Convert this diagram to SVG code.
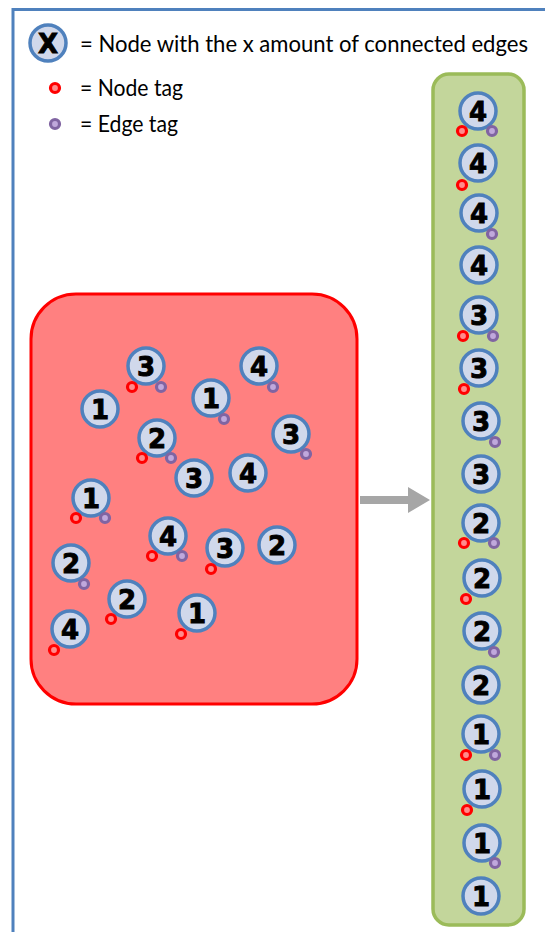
<svg xmlns="http://www.w3.org/2000/svg" width="545" height="932" viewBox="0 0 545 932">
  <style>
    .frame { fill: none; stroke: #4F81BD; stroke-width: 3; }
    .legend { font-family: Lato, "Open Sans", sans-serif; font-size: 23px; fill: #000; }
    .node { fill: #D0D8EB; stroke: #4F81BD; stroke-width: 3.5; }
    .num { font-family: "DejaVu Sans", sans-serif; font-weight: bold; font-size: 26px; fill: #000; stroke: #000; stroke-width: 0.9; text-anchor: middle; }
    .ntag { fill: #FF8C8C; stroke: #FF0000; stroke-width: 3.2; }
    .etag { fill: #C0A8DC; stroke: #8064A2; stroke-width: 3.2; }
    .pool { fill: #FF8080; stroke: #FF0000; stroke-width: 3; }
    .sorted { fill: #C3D69B; stroke: #9BBB59; stroke-width: 3.5; }
    .arrow { fill: #A6A6A6; }
  </style>

  <!-- outer frame -->
  <rect class="frame" x="13" y="9.5" width="540" height="940"/>

  <!-- legend -->
  <g id="legend">
    <circle class="node" cx="48" cy="43" r="18"/>
    <text class="num" x="48" y="52.5">X</text>
    <text class="legend" x="80" y="52" textLength="448" lengthAdjust="spacingAndGlyphs">= Node with the x amount of connected edges</text>
    <circle class="ntag" cx="55" cy="88" r="4.5"/>
    <text class="legend" x="80" y="96" textLength="103" lengthAdjust="spacingAndGlyphs">= Node tag</text>
    <circle class="etag" cx="55" cy="124" r="4.5"/>
    <text class="legend" x="80" y="132" textLength="98" lengthAdjust="spacingAndGlyphs">= Edge tag</text>
  </g>

  <!-- containers -->
  <rect id="pool" class="pool" x="31" y="294" width="326" height="410" rx="45"/>
  <rect id="sorted" class="sorted" x="433" y="74" width="91" height="851" rx="16"/>

  <!-- connectors -->
  <g id="connectors">
    <polygon class="arrow" points="360,496 408,496 408,487 430,500 408,513 408,504 360,504"/>
  </g>

  <!-- unsorted nodes -->
  <g id="p1"><circle class="node" cx="146" cy="366" r="18"/><text class="num" x="146" y="375.5">3</text><circle class="ntag" cx="132" cy="387" r="4.5"/><circle class="etag" cx="161" cy="387" r="4.5"/></g>
  <g id="p2"><circle class="node" cx="259" cy="366" r="18"/><text class="num" x="259" y="375.5">4</text><circle class="etag" cx="273" cy="387" r="4.5"/></g>
  <g id="p3"><circle class="node" cx="100" cy="409" r="18"/><text class="num" x="100" y="418.5">1</text></g>
  <g id="p4"><circle class="node" cx="211" cy="398" r="18"/><text class="num" x="211" y="407.5">1</text><circle class="etag" cx="224" cy="419" r="4.5"/></g>
  <g id="p5"><circle class="node" cx="157" cy="438" r="18"/><text class="num" x="157" y="447.5">2</text><circle class="ntag" cx="142" cy="458" r="4.5"/><circle class="etag" cx="171" cy="458" r="4.5"/></g>
  <g id="p6"><circle class="node" cx="291" cy="434" r="18"/><text class="num" x="291" y="443.5">3</text><circle class="etag" cx="306" cy="454" r="4.5"/></g>
  <g id="p7"><circle class="node" cx="194" cy="478" r="18"/><text class="num" x="194" y="487.5">3</text></g>
  <g id="p8"><circle class="node" cx="248" cy="473" r="18"/><text class="num" x="248" y="482.5">4</text></g>
  <g id="p9"><circle class="node" cx="91" cy="498" r="18"/><text class="num" x="91" y="507.5">1</text><circle class="ntag" cx="76" cy="518" r="4.5"/><circle class="etag" cx="105" cy="518" r="4.5"/></g>
  <g id="p10"><circle class="node" cx="168" cy="536" r="18"/><text class="num" x="168" y="545.5">4</text><circle class="ntag" cx="152" cy="556" r="4.5"/><circle class="etag" cx="182" cy="556" r="4.5"/></g>
  <g id="p11"><circle class="node" cx="225" cy="548" r="18"/><text class="num" x="225" y="557.5">3</text><circle class="ntag" cx="211" cy="569" r="4.5"/></g>
  <g id="p12"><circle class="node" cx="277" cy="545" r="18"/><text class="num" x="277" y="554.5">2</text></g>
  <g id="p13"><circle class="node" cx="71" cy="563" r="18"/><text class="num" x="71" y="572.5">2</text><circle class="etag" cx="84" cy="584" r="4.5"/></g>
  <g id="p14"><circle class="node" cx="127" cy="599" r="18"/><text class="num" x="127" y="608.5">2</text><circle class="ntag" cx="111" cy="619" r="4.5"/></g>
  <g id="p15"><circle class="node" cx="197" cy="613" r="18"/><text class="num" x="197" y="622.5">1</text><circle class="ntag" cx="181" cy="634" r="4.5"/></g>
  <g id="p16"><circle class="node" cx="70" cy="629" r="18"/><text class="num" x="70" y="638.5">4</text><circle class="ntag" cx="54" cy="650" r="4.5"/></g>

  <!-- sorted nodes -->
  <g id="s1"><circle class="node" cx="478" cy="111" r="18"/><text class="num" x="478" y="120.5">4</text><circle class="ntag" cx="462" cy="131" r="4.5"/><circle class="etag" cx="492" cy="131" r="4.5"/></g>
  <g id="s2"><circle class="node" cx="478" cy="163" r="18"/><text class="num" x="478" y="172.5">4</text><circle class="ntag" cx="462" cy="185" r="4.5"/></g>
  <g id="s3"><circle class="node" cx="479" cy="213" r="18"/><text class="num" x="479" y="222.5">4</text><circle class="etag" cx="492" cy="234" r="4.5"/></g>
  <g id="s4"><circle class="node" cx="479" cy="265" r="18"/><text class="num" x="479" y="274.5">4</text></g>
  <g id="s5"><circle class="node" cx="479" cy="315" r="18"/><text class="num" x="479" y="324.5">3</text><circle class="ntag" cx="463" cy="336" r="4.5"/><circle class="etag" cx="493" cy="336" r="4.5"/></g>
  <g id="s6"><circle class="node" cx="479" cy="368" r="18"/><text class="num" x="479" y="377.5">3</text><circle class="ntag" cx="464" cy="389" r="4.5"/></g>
  <g id="s7"><circle class="node" cx="481" cy="421" r="18"/><text class="num" x="481" y="430.5">3</text><circle class="etag" cx="495" cy="442" r="4.5"/></g>
  <g id="s8"><circle class="node" cx="481" cy="474" r="18"/><text class="num" x="481" y="483.5">3</text></g>
  <g id="s9"><circle class="node" cx="481" cy="523" r="18"/><text class="num" x="481" y="532.5">2</text><circle class="ntag" cx="464" cy="543" r="4.5"/><circle class="etag" cx="494" cy="543" r="4.5"/></g>
  <g id="s10"><circle class="node" cx="482" cy="578" r="18"/><text class="num" x="482" y="587.5">2</text><circle class="ntag" cx="466" cy="599" r="4.5"/></g>
  <g id="s11"><circle class="node" cx="482" cy="631" r="18"/><text class="num" x="482" y="640.5">2</text><circle class="etag" cx="494" cy="652" r="4.5"/></g>
  <g id="s12"><circle class="node" cx="481" cy="685" r="18"/><text class="num" x="481" y="694.5">2</text></g>
  <g id="s13"><circle class="node" cx="481" cy="734" r="18"/><text class="num" x="481" y="743.5">1</text><circle class="ntag" cx="466" cy="755" r="4.5"/><circle class="etag" cx="495" cy="755" r="4.5"/></g>
  <g id="s14"><circle class="node" cx="482" cy="789" r="18"/><text class="num" x="482" y="798.5">1</text><circle class="ntag" cx="467" cy="810" r="4.5"/></g>
  <g id="s15"><circle class="node" cx="482" cy="843" r="18"/><text class="num" x="482" y="852.5">1</text><circle class="etag" cx="495" cy="863" r="4.5"/></g>
  <g id="s16"><circle class="node" cx="481" cy="896" r="18"/><text class="num" x="481" y="905.5">1</text></g>
</svg>
